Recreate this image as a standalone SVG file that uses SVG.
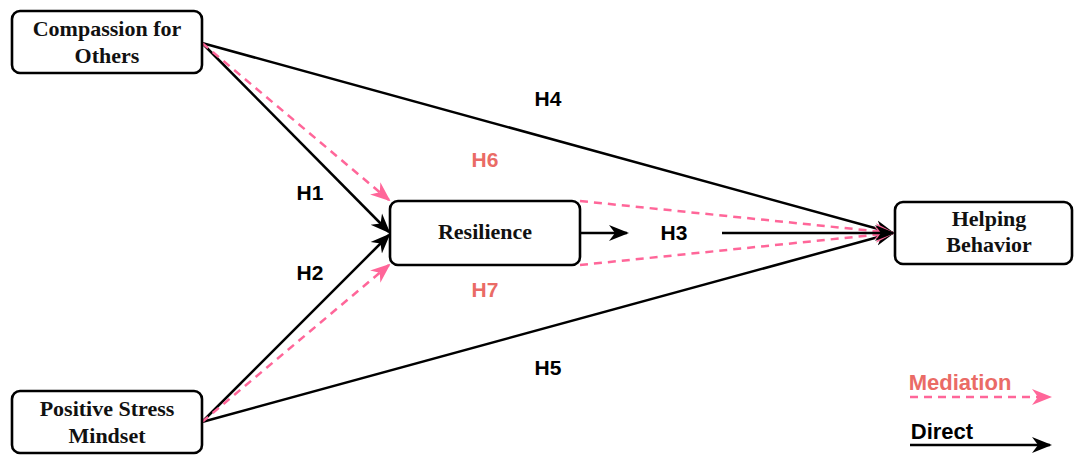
<svg xmlns="http://www.w3.org/2000/svg" width="1075" height="455" viewBox="0 0 1075 455">
<style>
.box{fill:#fff;stroke:#000;stroke-width:2.6}
.nt{font-family:"Liberation Serif",serif;font-weight:bold;font-size:22px;fill:#111;text-anchor:middle}
.lb{font-family:"Liberation Sans",sans-serif;font-weight:bold;font-size:21px;text-anchor:middle}
.d{stroke:#000;stroke-width:2.5;fill:none}
.m{stroke:#FF6699;stroke-width:2.5;fill:none;stroke-dasharray:8 6}
</style>
<defs>
<marker id="abL" markerWidth="20" markerHeight="20" refX="18" refY="10" orient="auto" markerUnits="userSpaceOnUse" viewBox="0 0 20 20">
<path d="M0,2 L20,10 L0,18 L6,10 Z" fill="#000"/>
</marker>
<marker id="apL" markerWidth="20" markerHeight="20" refX="18" refY="10" orient="auto" markerUnits="userSpaceOnUse" viewBox="0 0 20 20">
<path d="M0,2 L20,10 L0,18 L6,10 Z" fill="#FF6699"/>
</marker>
</defs>
<g id="connectors">
<line class="d" x1="202" y1="43" x2="893" y2="233" marker-end="url(#abL)"/>
<line class="d" x1="202" y1="422" x2="893" y2="233" marker-end="url(#abL)"/>
<line class="d" x1="202" y1="43" x2="389" y2="232" marker-end="url(#abL)"/>
<line class="d" x1="202" y1="422" x2="389" y2="235" marker-end="url(#abL)"/>
<line class="m" x1="202" y1="43" x2="389" y2="200" marker-end="url(#apL)"/>
<line class="m" x1="202" y1="422" x2="389" y2="265" marker-end="url(#apL)"/>
<line class="m" x1="580" y1="201" x2="893" y2="233" marker-end="url(#apL)"/>
<line class="m" x1="580" y1="265" x2="893" y2="233" marker-end="url(#apL)"/>
<line class="d" x1="580" y1="233" x2="627" y2="233" marker-end="url(#abL)"/>
<line class="d" x1="722" y1="233" x2="893" y2="233" marker-end="url(#abL)"/>
<text class="lb" x="548" y="106" fill="#000">H4</text>
<text class="lb" x="485" y="167" fill="#EA6B66">H6</text>
<text class="lb" x="310" y="200" fill="#000">H1</text>
<text class="lb" x="310" y="280" fill="#000">H2</text>
<text class="lb" x="485" y="297" fill="#EA6B66">H7</text>
<text class="lb" x="548" y="375" fill="#000">H5</text>
<text class="lb" x="674" y="240" fill="#000">H3</text>
</g>
<g id="node-compassion">
<rect class="box" x="12" y="11" width="190" height="62" rx="8"/>
<text class="nt" x="107" y="36">Compassion for</text>
<text class="nt" x="107" y="63">Others</text>
</g>
<g id="node-resilience">
<rect class="box" x="390" y="201" width="190" height="64" rx="8"/>
<text class="nt" x="485" y="239">Resilience</text>
</g>
<g id="node-helping">
<rect class="box" x="895" y="202" width="177" height="62" rx="8"/>
<text class="nt" x="989" y="226">Helping</text>
<text class="nt" x="989" y="252">Behavior</text>
</g>
<g id="node-positive">
<rect class="box" x="12" y="391" width="190" height="62" rx="8"/>
<text class="nt" x="107" y="416">Positive Stress</text>
<text class="nt" x="107" y="443">Mindset</text>
</g>
<g id="legend">
<text class="lb" x="960" y="390" fill="#EA6B66" style="font-size:22px">Mediation</text>
<line class="m" x1="910" y1="397" x2="1050" y2="397" marker-end="url(#apL)"/>
<text class="lb" x="942" y="439" fill="#000" style="font-size:22px">Direct</text>
<line class="d" x1="910" y1="445" x2="1050" y2="445" marker-end="url(#abL)"/>
</g>
</svg>
